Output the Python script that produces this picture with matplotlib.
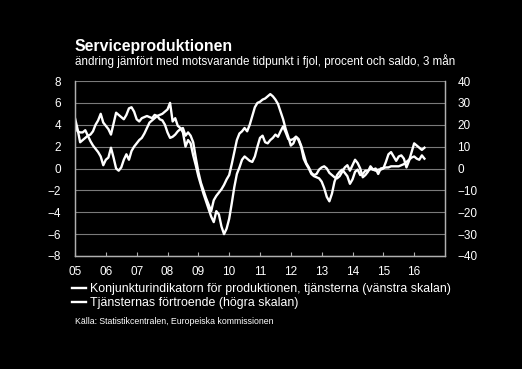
import numpy as np
import matplotlib
matplotlib.use('Agg')
import matplotlib.pyplot as plt

plt.rcParams['font.family'] = ['Liberation Sans', 'DejaVu Sans']

# monthly data, first value = jan 2005
start_year = 2005

# Konjunkturindikatorn för produktionen, tjänsterna (vänstra skalan), %
prod = [4.2, 3.4, 3.3, 3.3, 3.5, 3.0, 2.5, 2.1, 1.8, 1.5, 1.1, 0.3,
        0.8, 1.0, 1.9, 1.0, 0.0, -0.2, 0.1, 0.8, 1.3, 0.8, 1.6, 2.0,
        2.3, 2.6, 2.8, 3.2, 3.7, 4.2, 4.4, 4.6, 4.8, 4.9, 5.0, 5.2,
        5.4, 6.0, 4.3, 4.6, 3.9, 3.7, 3.3, 2.0, 2.6, 2.3, 1.2, 0.3,
        -0.7, -1.5, -2.3, -3.0, -3.7, -4.4, -4.9, -3.9, -4.2, -5.3, -6.0, -5.5,
        -4.6, -3.2, -1.7, -0.5, 0.1, 0.8, 1.1, 0.9, 0.7, 0.6, 1.1, 2.0,
        2.8, 3.0, 2.4, 2.3, 2.6, 2.8, 3.1, 2.9, 3.4, 3.85, 3.3, 2.7,
        2.6, 2.7, 2.9, 2.6, 2.0, 0.9, 0.4, 0.0, -0.5, -0.7, -0.8, -0.9,
        -1.2, -1.8, -2.6, -3.0, -2.3, -1.2, -0.6, -0.3, -0.1, -0.4, -0.7, -1.4,
        -1.0, -0.3, -0.1, -0.6, -0.5, -0.2, -0.2, -0.05, -0.1, 0.0, -0.5, 0.0,
        0.05, 0.1, 0.1, 0.2, 0.2, 0.2, 0.2, 0.3, 0.4, 0.6, 0.8, 1.0,
        1.1, 0.9, 0.8, 1.2, 0.9]

# Tjänsternas förtroende (högra skalan), saldo
conf = [23, 18, 12, 13, 14, 15, 15.5, 17, 20, 22, 25, 21,
        19.5, 18, 15.5, 20.5, 25.5, 24.5, 23.5, 22.5, 24.5, 27.5, 28, 26,
        22.5, 21.5, 23, 23.5, 24, 23.5, 23, 24.5, 24, 22.5, 22, 20,
        16.5, 14, 14.5, 15.5, 17, 18, 18.5, 15, 16.5, 15, 12, 5,
        -1.5, -6.5, -10, -13.5, -16.5, -19.5, -14.5, -12.5, -11, -9.5, -7.5, -5,
        -3, 2, 7.5, 13, 16, 17, 18.5, 17, 20, 24, 28, 30,
        30.5, 31.5, 32, 33, 34, 33, 31.5, 29.5, 26, 22.5, 18, 14.5,
        10.5, 11.5, 14.5, 13.5, 10.5, 6.5, 2.5, 0.5, -2, -3, -2.5, -0.5,
        0.5, 1, 0, -2, -3, -4, -4.5, -3.5, -1.5, 0.5, 1.5, -1,
        1.5, 4, 2.5, 0, -4, -3, -1.5, 1, -0.5, -1, -0.5, -0.5,
        0, 3, 6.5, 7.5, 5.5, 3.5, 5.5, 6, 4.5, 0.5, 3.5, 7.5,
        11.5, 10.5, 9.5, 8.5, 9.5]

years = list(range(2005, 2017))
year_labels = ['05', '06', '07', '08', '09', '10', '11', '12', '13', '14', '15', '16']

t_prod = start_year + np.arange(len(prod)) / 12.0
t_conf = start_year + np.arange(len(conf)) / 12.0

W, H = 522, 369
fig = plt.figure(figsize=(W / 100, H / 100), dpi=100, facecolor='black')
ax = fig.add_axes([75 / W, 1 - 256 / H, 370 / W, 175 / H])
ax.set_facecolor('black')
ax2 = ax.twinx()

axis_col = '#b0b0b0'
grid_col = '#7a7a7a'

l1, = ax.plot(t_prod, prod, color='white', lw=1.7, solid_joinstyle='round')
l2, = ax2.plot(t_conf, conf, color='white', lw=1.7, solid_joinstyle='round')

ax.set_xlim(2005, 2017)
ax.set_ylim(-8, 8)
ax.set_yticks(range(-8, 9, 2))
ax2.set_ylim(-40, 40)
ax2.set_yticks(range(-40, 41, 10))
ax.set_xticks(years)
ax.set_xticklabels(year_labels)

ax.grid(axis='y', color=grid_col, lw=0.8)
ax.set_axisbelow(True)

for a in (ax, ax2):
    a.spines['top'].set_visible(False)
    for s in ('left', 'right', 'bottom'):
        a.spines[s].set_color(axis_col)
        a.spines[s].set_linewidth(0.9)

ax.tick_params(axis='y', length=0, labelcolor='white', labelsize=8.5, pad=10)
ax.tick_params(axis='x', direction='in', length=3, color=axis_col,
               labelcolor='white', labelsize=8.5, pad=7)
ax2.tick_params(axis='y', length=0, labelcolor='white', labelsize=8.5, pad=9)

fig.text(75 / W, 1 - 51.5 / H, 'Serviceproduktionen', color='white',
         fontsize=11.4, fontweight='bold', va='baseline')
fig.text(75 / W, 1 - 65 / H,
         'ändring jämfört med motsvarande tidpunkt i fjol, procent och saldo, 3 mån',
         color='white', fontsize=8.4, va='baseline')

fig.legend(handles=[l1, l2],
           labels=['Konjunkturindikatorn för produktionen, tjänsterna (vänstra skalan)',
                   'Tjänsternas förtroende (högra skalan)'],
           loc='upper left', bbox_to_anchor=(72 / W, 1 - 283 / H),
           frameon=False, fontsize=8.9, labelcolor='white',
           handlelength=1.1, handletextpad=0.35, borderaxespad=0,
           borderpad=0, labelspacing=0.15)

fig.text(75 / W, 1 - 324 / H, 'Källa: Statistikcentralen, Europeiska kommissionen',
         color='white', fontsize=6.3, va='baseline')

fig.savefig('out.png', dpi=100, facecolor='black')
